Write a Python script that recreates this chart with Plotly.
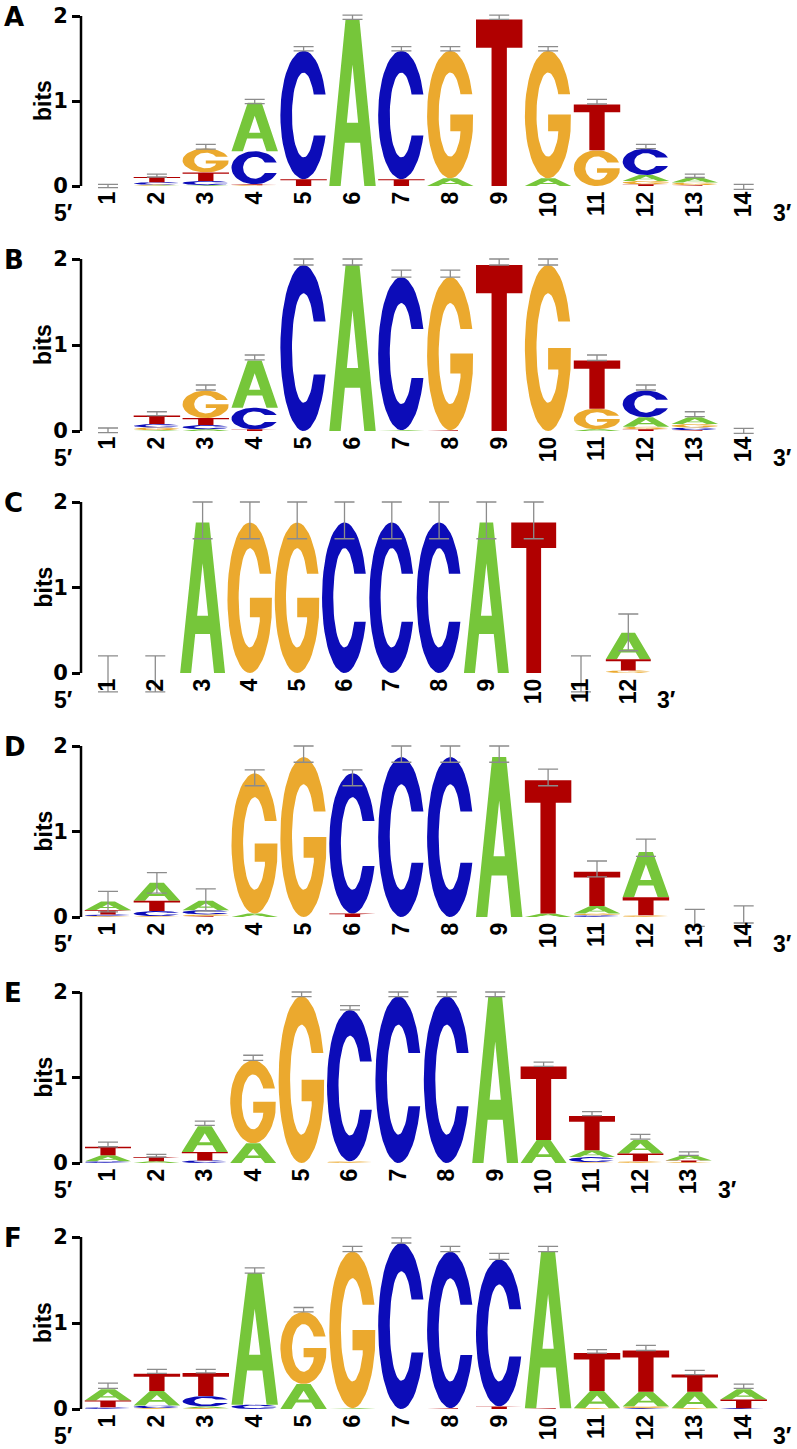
import math
import plotly.graph_objects as go

W, H = 797, 1449
LETTERS = ["A", "C", "G", "T"]
COLORS = {"A": "#76C63A", "C": "#0C0CB8", "G": "#EBA92E", "T": "#B00000"}

# ---------------- data (bits) ----------------
# Panel A
a_A = [0, 0.005, 0.01, 0.57, 0, 1.96, 0, 0.09, 0, 0.09, 0, 0.07, 0.06, 0]
a_C = [0, 0.03, 0.05, 0.39, 1.51, 0, 1.51, 0, 0, 0, 0, 0.31, 0, 0]
a_G = [0, 0.01, 0.28, 0.01, 0, 0, 0, 1.50, 0, 1.50, 0.42, 0.04, 0.03, 0]
a_T = [0, 0.06, 0.10, 0.01, 0.08, 0, 0.08, 0, 1.96, 0, 0.54, 0.02, 0.01, 0]
a_lo = [-0.02, 0.106, 0.435, 0.97, 1.59, 1.96, 1.59, 1.59, 1.96, 1.59, 0.965, 0.44, 0.10, -0.04]
a_hi = [0.02, 0.14, 0.49, 1.02, 1.64, 2.01, 1.64, 1.64, 2.01, 1.64, 1.02, 0.49, 0.14, 0.02]

# Panel B
b_A = [0, 0.01, 0.02, 0.55, 0, 1.93, 0.01, 0, 0, 0, 0.02, 0.11, 0.08, 0]
b_C = [0, 0.04, 0.05, 0.25, 1.93, 0, 1.78, 0, 0, 0, 0, 0.31, 0.03, 0]
b_G = [0, 0.03, 0.32, 0, 0, 0, 0, 1.78, 0, 1.93, 0.24, 0.03, 0.04, 0]
b_T = [0, 0.10, 0.08, 0.02, 0, 0, 0, 0.01, 1.93, 0, 0.56, 0.02, 0.01, 0]
b_lo = [-0.02, 0.178, 0.477, 0.826, 1.93, 1.93, 1.79, 1.79, 1.93, 1.93, 0.82, 0.477, 0.166, -0.027]
b_hi = [0.035, 0.224, 0.535, 0.884, 2.0, 2.0, 1.87, 1.87, 2.0, 2.0, 0.884, 0.535, 0.224, 0.03]

# Panel C
c_A = [0, 0, 1.76, 0, 0, 0, 0, 0, 1.76, 0, 0, 0.31]
c_C = [0, 0, 0, 0, 0, 1.76, 1.76, 1.76, 0, 0, 0, 0]
c_G = [0, 0, 0, 1.76, 1.76, 0, 0, 0, 0, 0, 0, 0.03]
c_T = [0, 0, 0, 0, 0, 0, 0, 0, 0, 1.76, 0, 0.13]
c_lo = [-0.22, -0.22, 1.57, 1.57, 1.57, 1.57, 1.57, 1.57, 1.57, 1.57, -0.22, 0.26]
c_hi = [0.20, 0.20, 2.0, 2.0, 2.0, 2.0, 2.0, 2.0, 2.0, 2.0, 0.20, 0.69]

# Panel D
d_A = [0.10, 0.21, 0.11, 0.04, 0, 0, 0, 0, 1.87, 0.04, 0.09, 0.53, 0, 0]
d_C = [0.02, 0.06, 0.05, 0, 0, 1.64, 1.87, 1.87, 0, 0, 0.02, 0, 0, 0]
d_G = [0.01, 0.01, 0.02, 1.64, 1.87, 0, 0, 0, 0, 0, 0.02, 0.02, 0, 0]
d_T = [0.05, 0.12, 0.01, 0, 0, 0.04, 0, 0, 0, 1.56, 0.40, 0.21, 0, 0]
d_lo = [0.06, 0.28, 0.07, 1.535, 1.81, 1.535, 1.81, 1.81, 1.81, 1.535, 0.47, 0.71, -0.11, -0.07]
d_hi = [0.30, 0.52, 0.33, 1.72, 2.0, 1.72, 2.0, 2.0, 2.0, 1.73, 0.655, 0.91, 0.09, 0.13]

# Panel E
e_A = [0.07, 0.02, 0.30, 0.23, 0, 0, 0, 0, 1.95, 0.27, 0.08, 0.16, 0.06]
e_C = [0.02, 0, 0.03, 0, 0, 1.77, 1.95, 1.95, 0, 0, 0.06, 0, 0]
e_G = [0, 0, 0, 0.97, 1.95, 0.02, 0, 0, 0, 0, 0.01, 0.02, 0.01]
e_T = [0.10, 0.05, 0.10, 0, 0, 0, 0, 0, 0, 0.86, 0.40, 0.09, 0.02]
e_lo = [0.19, 0.07, 0.44, 1.20, 1.945, 1.79, 1.945, 1.945, 1.945, 1.13, 0.553, 0.28, 0.09]
e_hi = [0.245, 0.10, 0.49, 1.26, 2.0, 1.84, 2.0, 2.0, 2.0, 1.18, 0.60, 0.335, 0.13]

# Panel F
f_A = [0.13, 0.17, 0.02, 1.53, 0.29, 0.01, 0, 0, 0, 1.82, 0.20, 0.17, 0.19, 0.12]
f_C = [0.02, 0.03, 0.12, 0.05, 0, 0, 1.93, 1.82, 1.71, 0, 0, 0.01, 0, 0.01]
f_G = [0, 0.01, 0.01, 0, 0.84, 1.82, 0, 0, 0, 0, 0.01, 0.02, 0.01, 0]
f_T = [0.08, 0.20, 0.27, 0, 0, 0, 0, 0.01, 0.03, 0.01, 0.44, 0.48, 0.20, 0.10]
f_lo = [0.24, 0.415, 0.42, 1.58, 1.13, 1.83, 1.93, 1.83, 1.74, 1.83, 0.65, 0.68, 0.40, 0.24]
f_hi = [0.30, 0.46, 0.46, 1.64, 1.18, 1.89, 1.99, 1.89, 1.81, 1.89, 0.69, 0.74, 0.45, 0.29]

panel_labels = ["A", "B", "C", "D", "E", "F"]
panel_data = [
    (a_A, a_C, a_G, a_T, a_lo, a_hi),
    (b_A, b_C, b_G, b_T, b_lo, b_hi),
    (c_A, c_C, c_G, c_T, c_lo, c_hi),
    (d_A, d_C, d_G, d_T, d_lo, d_hi),
    (e_A, e_C, e_G, e_T, e_lo, e_hi),
    (f_A, f_C, f_G, f_T, f_lo, f_hi),
]

# ---------------- layout geometry (pixels) ----------------
# (y pixel of 0 bits, y pixel of 2 bits, pixel width of one position)
geom = [(186, 16, 48.9), (431, 259, 48.9), (673, 502, 47.3),
        (917, 746, 48.9), (1163, 992, 48.4), (1409, 1237, 48.9)]
AXIS_X = 81
YLO, YHI = -0.3, 2.08


# ---------------- glyph outlines in a unit box ----------------
def arc(cx, cy, rx, ry, a0, a1, n=48):
    pts = []
    for k in range(n + 1):
        a = math.radians(a0 + (a1 - a0) * k / n)
        pts.append((cx + rx * math.cos(a), cy + ry * math.sin(a)))
    return pts


IN_RX, IN_RY, TERM = 0.25, 0.33, 0.66
AO = math.degrees(math.asin((TERM - 0.5) / 0.5))
AI = math.degrees(math.asin((TERM - 0.5) / IN_RY))


def glyph_C():
    return [arc(0.5, 0.5, 0.5, 0.5, AO, 360 - AO) + arc(0.5, 0.5, IN_RX, IN_RY, 360 - AI, AI)]


def glyph_G():
    stem_in = 0.72
    a_in = -math.degrees(math.acos((stem_in - 0.5) / IN_RX))
    y_in = 0.5 + IN_RY * math.sin(math.radians(a_in))
    pts = arc(0.5, 0.5, 0.5, 0.5, AO, 345)
    pts += [(0.99, 0.5), (0.50, 0.5), (0.50, 0.37), (stem_in, 0.37), (stem_in, y_in)]
    pts += arc(0.5, 0.5, IN_RX, IN_RY, 360 + a_in, AI)
    return [pts]


def glyph_T():
    return [[(0, 1), (1, 1), (1, 0.83), (0.665, 0.83), (0.665, 0), (0.335, 0),
             (0.335, 0.83), (0, 0.83)]]


def glyph_A():
    return [[(0, 0), (0.35, 1), (0.65, 1), (1, 0), (0.755, 0), (0.664, 0.26),
             (0.336, 0.26), (0.245, 0)]]


def hole_A():
    return [[(0.378, 0.38), (0.5, 0.729), (0.622, 0.38)]]


GLYPHS = {"A": glyph_A(), "C": glyph_C(), "G": glyph_G(), "T": glyph_T()}
HOLES = {"A": hole_A()}
LW = 0.95

fig = go.Figure()
layout = dict(width=W, height=H, margin=dict(l=0, r=0, t=0, b=0, pad=0, autoexpand=False),
              paper_bgcolor="white", plot_bgcolor="white", showlegend=False)
shapes, annotations = [], []
FONT = "Liberation Sans, Arial, Helvetica, sans-serif"
WIDE = "DejaVu Sans, Liberation Sans, sans-serif"

for k, (lab, data, g) in enumerate(zip(panel_labels, panel_data, geom), start=1):
    sfx = "" if k == 1 else str(k)
    xa, ya = "x" + sfx, "y" + sfx
    zero_px, two_px, slot = g
    heights = dict(zip(LETTERS, data[:4]))
    lo, hi = data[4], data[5]
    n = len(lo)
    positions = list(range(1, n + 1))

    polys = {L: ([], []) for L in LETTERS}
    holes = ([], [])
    for i, pos in enumerate(positions):
        order = sorted(LETTERS, key=lambda L: heights[L][i])
        base = 0.0
        for L in order:
            h = heights[L][i]
            if h <= 0:
                continue
            for poly in GLYPHS[L]:
                for u, v in poly:
                    polys[L][0].append(pos - LW / 2 + u * LW)
                    polys[L][1].append(base + v * h)
                polys[L][0].append(None)
                polys[L][1].append(None)
            for poly in HOLES.get(L, []):
                for u, v in poly:
                    holes[0].append(pos - LW / 2 + u * LW)
                    holes[1].append(base + v * h)
                holes[0].append(None)
                holes[1].append(None)
            base += h

    for L in LETTERS:
        fig.add_trace(go.Scatter(x=polys[L][0], y=polys[L][1], mode="lines", fill="toself",
                                 fillcolor=COLORS[L], line=dict(width=0, color=COLORS[L]),
                                 hoverinfo="skip", xaxis=xa, yaxis=ya))
    fig.add_trace(go.Scatter(x=holes[0], y=holes[1], mode="lines", fill="toself",
                             fillcolor="white", line=dict(width=0, color="white"),
                             hoverinfo="skip", xaxis=xa, yaxis=ya))
    mid = [(a + b) / 2 for a, b in zip(lo, hi)]
    half = [(b - a) / 2 for a, b in zip(lo, hi)]
    fig.add_trace(go.Scatter(x=positions, y=mid, mode="markers",
                             marker=dict(size=1, opacity=0),
                             error_y=dict(type="data", array=half, symmetric=True,
                                          color="#8c8c8c", thickness=1.3, width=10),
                             hoverinfo="skip", xaxis=xa, yaxis=ya))

    ppb = (zero_px - two_px) / 2.0
    xmin = 1 - 27.0 / slot
    xmax = n + 1.05
    left_px = AXIS_X
    right_px = min(AXIS_X + (xmax - xmin) * slot, W)
    xmax = xmin + (right_px - left_px) / slot
    bot_px = zero_px - YLO * ppb
    top_px = two_px - (YHI - 2) * ppb

    layout["xaxis" + sfx] = dict(
        domain=[left_px / W, right_px / W], range=[xmin, xmax],
        anchor="free", position=1 - zero_px / H, automargin=False,
        tickmode="array", tickvals=positions, ticktext=[str(p) for p in positions],
        tickangle=-90, ticks="", showgrid=False, zeroline=False, showline=False,
        tickfont=dict(family=FONT, size=23, color="black", weight="bold"),
        fixedrange=True)
    layout["yaxis" + sfx] = dict(
        domain=[1 - bot_px / H, 1 - top_px / H], range=[YLO, YHI], anchor=xa,
        automargin=False,
        tickmode="array", tickvals=[0, 1, 2], ticktext=["0", "1", "2"],
        ticks="outside", ticklen=8, tickwidth=2.5, tickcolor="black",
        showgrid=False, zeroline=False, showline=False,
        tickfont=dict(family=WIDE, size=21, color="black", weight="bold"),
        fixedrange=True)
    shapes.append(dict(type="line", xref=xa + " domain", yref=ya, x0=0, x1=0, y0=0, y1=2,
                       line=dict(color="black", width=2.5)))

    lab_y = 1 - (zero_px + 27) / H
    x3_px = AXIS_X + (n + 0.8 - xmin) * slot
    annotations += [
        dict(text=lab, xref="paper", yref="paper", x=2 / W, y=1 - (two_px + 1) / H,
             xanchor="left", yanchor="middle", showarrow=False,
             font=dict(family=WIDE, size=26, color="black", weight="bold")),
        dict(text="bits", xref="paper", yref="paper", x=43 / W,
             y=1 - ((zero_px + two_px) / 2) / H, textangle=-90,
             xanchor="center", yanchor="middle", showarrow=False,
             font=dict(family=FONT, size=23, color="black", weight="bold")),
        dict(text="5\u2032", xref="paper", yref="paper", x=64 / W, y=lab_y,
             xanchor="center", yanchor="middle", showarrow=False,
             font=dict(family=FONT, size=23, color="black", weight="bold")),
        dict(text="3\u2032", xref="paper", yref="paper", x=x3_px / W, y=lab_y,
             xanchor="center", yanchor="middle", showarrow=False,
             font=dict(family=FONT, size=23, color="black", weight="bold")),
    ]

layout["shapes"] = shapes
layout["annotations"] = annotations
fig.update_layout(**layout)
fig.write_html("out.html", config={"displayModeBar": False},
               post_script="document.body.style.margin='0px';document.body.style.padding='0px';")
